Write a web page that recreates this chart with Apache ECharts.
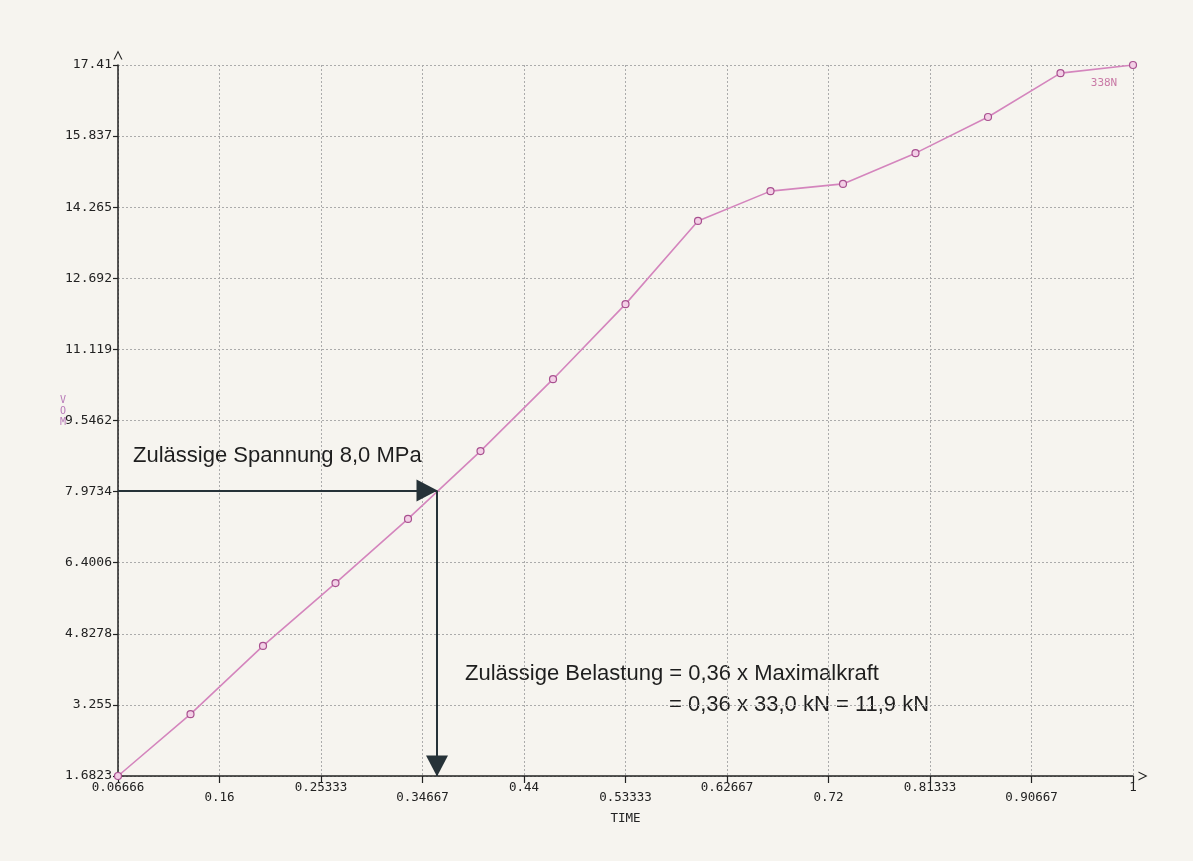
<!DOCTYPE html>
<html>
<head>
<meta charset="utf-8">
<script src="https://cdn.jsdelivr.net/npm/echarts@6/dist/echarts.min.js"></script>
<style>
html,body{margin:0;padding:0;background:#f6f4ef;}
#chart{width:1193px;height:861px;}
</style>
</head>
<body>
<div id="chart"></div>
<script>
// ---- data ----
var xTickLabels = ['0.06666','0.16','0.25333','0.34667','0.44','0.53333','0.62667','0.72','0.81333','0.90667','1'];
var yTickLabels = ['1.6823','3.255','4.8278','6.4006','7.9734','9.5462','11.119','12.692','14.265','15.837','17.41'];
var timeValues = [0.06666,0.13333,0.2,0.26667,0.33333,0.4,0.46667,0.53333,0.6,0.66667,0.73333,0.8,0.86667,0.93333,1];
var stressValues = [1.6823,3.05,4.56,5.95,7.37,8.87,10.46,12.12,13.96,14.62,14.78,15.46,16.26,17.23,17.41];
var lastLabel = '338N';
var allowStress = 8.0;   // MPa
var allowTime = 0.36;    // 0,36 x Maximalkraft

var xTicks = xTickLabels.map(Number);
var yTicks = yTickLabels.map(Number);

function nearestLabel(v, ticks, labels){
  var best = 0, d = Infinity;
  for (var i = 0; i < ticks.length; i++){
    var dd = Math.abs(ticks[i] - v);
    if (dd < d){ d = dd; best = i; }
  }
  return {i: best, s: labels[best]};
}

var seriesData = timeValues.map(function(t, i){
  var item = {value: [t, stressValues[i]]};
  if (i === timeValues.length - 1){
    item.label = {show: true, formatter: lastLabel, position: 'inside', offset: [-29, 18],
      color: '#c97aa6', fontFamily: 'DejaVu Sans Mono', fontSize: 11};
  }
  return item;
});

var monoFont = 'DejaVu Sans Mono';
var chevronUp = 'path://M0,10 L5,0 L10,10 L8.6,10 L5,2.6 L1.4,10 Z';

var chart = echarts.init(document.getElementById('chart'));
chart.setOption({
  backgroundColor: '#f6f4ef',
  animation: false,
  grid: {left: 118, right: 60, top: 65, bottom: 85, containLabel: false},
  xAxis: {
    type: 'value',
    min: xTicks[0],
    max: xTicks[xTicks.length - 1],
    name: 'TIME',
    nameLocation: 'middle',
    nameGap: 36,
    nameTextStyle: {fontFamily: monoFont, fontSize: 12.5, color: '#222'},
    axisLine: {show: true, onZero: false, lineStyle: {color: '#222', width: 1.5},
      symbol: ['none', chevronUp], symbolSize: [9, 9], symbolOffset: [0, 10]},
    axisTick: {show: true, length: 7, customValues: xTicks, lineStyle: {color: '#222', width: 1.2}},
    axisLabel: {
      customValues: xTicks,
      margin: 7,
      fontFamily: monoFont, fontSize: 12.5, color: '#222', lineHeight: 10,
      formatter: function(v){
        var r = nearestLabel(v, xTicks, xTickLabels);
        return (r.i % 2 === 1) ? '\n' + r.s : r.s;
      }
    },
    splitLine: {show: true, lineStyle: {color: '#ababab', width: 1, type: [2, 2]}}
  },
  yAxis: {
    type: 'value',
    min: yTicks[0],
    max: yTicks[yTicks.length - 1],
    axisLine: {show: true, onZero: false, lineStyle: {color: '#222', width: 1.5},
      symbol: ['none', chevronUp], symbolSize: [9, 9], symbolOffset: [0, 10]},
    axisTick: {show: true, length: 5, customValues: yTicks, lineStyle: {color: '#222', width: 1.2}},
    axisLabel: {
      customValues: yTicks,
      margin: 6,
      fontFamily: monoFont, fontSize: 13, color: '#222',
      formatter: function(v){ return nearestLabel(v, yTicks, yTickLabels).s; }
    },
    splitLine: {show: true, lineStyle: {color: '#ababab', width: 1, type: [2, 2]}}
  },
  series: [{
    type: 'line',
    name: 'VON MISES',
    data: seriesData,
    symbol: 'circle',
    symbolSize: 7,
    lineStyle: {color: '#d485bd', width: 1.6},
    itemStyle: {color: '#f3cfe6', borderColor: '#a8508f', borderWidth: 1.2},
    emphasis: {disabled: true},
    z: 3,
    markLine: {
      silent: true,
      symbol: ['none', 'triangle'],
      symbolSize: [22, 21],
      symbolOffset: [0, [0, 10]],
      label: {show: false},
      lineStyle: {color: '#263238', width: 2, type: 'solid'},
      emphasis: {disabled: true},
      data: [
        [{coord: [xTicks[0], allowStress]}, {coord: [allowTime, allowStress]}],
        [{coord: [allowTime, allowStress]}, {coord: [allowTime, yTicks[0]]}]
      ]
    }
  }],
  graphic: [
    {type: 'text', left: 133, top: 445, style: {text: 'Zulässige Spannung 8,0 MPa',
      fontFamily: 'Liberation Sans', fontSize: 22, fill: '#1e1e1e'}},
    {type: 'text', left: 465, top: 663, style: {text: 'Zulässige Belastung = 0,36 x Maximalkraft',
      fontFamily: 'Liberation Sans', fontSize: 22, fill: '#1e1e1e'}},
    {type: 'text', left: 669, top: 694, style: {text: '= 0,36 x 33,0 kN = 11,9 kN',
      fontFamily: 'Liberation Sans', fontSize: 22, fill: '#1e1e1e'}},
    {type: 'text', left: 60, top: 395, style: {text: 'V\nO\nM',
      fontFamily: monoFont, fontSize: 10, lineHeight: 11, fill: '#b87ab8'}}
  ]
});
</script>
</body>
</html>
